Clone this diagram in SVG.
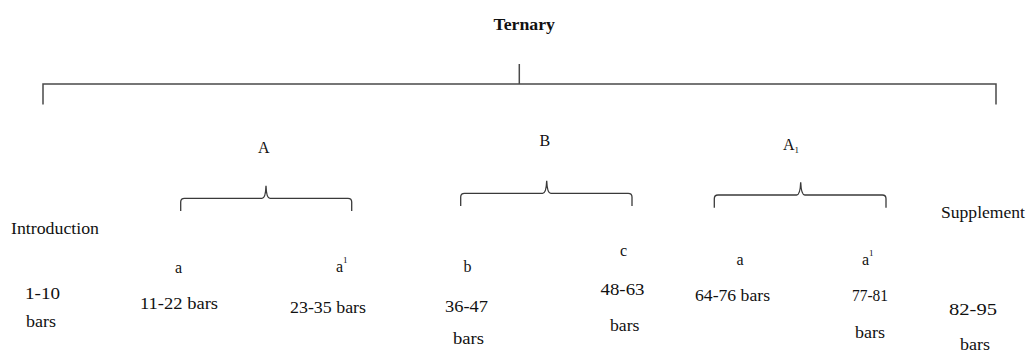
<svg xmlns="http://www.w3.org/2000/svg" width="1027" height="352" viewBox="0 0 1027 352">
<style>
text{font-family:"Liberation Serif","Times New Roman",serif;font-size:16px;fill:#111}
.title{font-weight:bold;font-size:16px}
.sup{font-size:9px}
.ln{fill:none;stroke:#4a4a4a;stroke-width:1.5}
.br{fill:none;stroke:#3a3a3a;stroke-width:1.3}
</style>
<rect width="1027" height="352" fill="#fff"/>
<g id="connectors">
<polyline class="ln" points="43,104.5 43,84 996,84 996,104.5"/>
<line class="ln" x1="519.3" y1="64" x2="519.3" y2="84"/>
<path class="br" d="M180.7,211 L180.7,202 Q180.7,198.3 184.5,198.3 L262,198.3 Q265.6,198.3 266,185.7 Q266.4,198.3 270,198.3 L348,198.3 Q351.7,198.3 351.7,202 L351.7,211"/>
<path class="br" d="M460.7,206 L460.7,197 Q460.7,193.3 464.5,193.3 L542.6,193.3 Q546.2,193.3 546.7,180.7 Q547.2,193.3 550.8,193.3 L628.2,193.3 Q632,193.3 632,197 L632,206"/>
<path class="br" d="M714.3,207.7 L714.3,198.7 Q714.3,195 718,195 L796.6,195 Q800.2,195 800.7,182.3 Q801.2,195 804.8,195 L882.3,195 Q886,195 886,198.7 L886,207.7"/>
</g>
<g id="ternary"><text class="title" x="493.5" y="30" textLength="61.5" lengthAdjust="spacingAndGlyphs">Ternary</text></g>
<g id="A"><text x="258" y="153">A</text></g>
<g id="B"><text x="539.5" y="146">B</text></g>
<g id="A1"><text x="783" y="150">A<tspan class="sup" dy="3">1</tspan></text></g>
<g id="introduction">
<text x="11" y="234" textLength="88" lengthAdjust="spacingAndGlyphs">Introduction</text>
<text x="25" y="299" textLength="35" lengthAdjust="spacingAndGlyphs">1-10</text>
<text x="26" y="327" textLength="30" lengthAdjust="spacingAndGlyphs">bars</text>
</g>
<g id="a1">
<text x="175" y="273">a</text>
<text x="140" y="309" textLength="78" lengthAdjust="spacingAndGlyphs">11-22 bars</text>
</g>
<g id="a2">
<text x="336" y="272">a<tspan class="sup" dy="-9">1</tspan></text>
<text x="290" y="313" textLength="76" lengthAdjust="spacingAndGlyphs">23-35 bars</text>
</g>
<g id="b">
<text x="463.5" y="272">b</text>
<text x="445" y="312" textLength="43" lengthAdjust="spacingAndGlyphs">36-47</text>
<text x="453" y="344" textLength="31" lengthAdjust="spacingAndGlyphs">bars</text>
</g>
<g id="c">
<text x="620" y="256">c</text>
<text x="600.5" y="295" textLength="44" lengthAdjust="spacingAndGlyphs">48-63</text>
<text x="610" y="331" textLength="29.5" lengthAdjust="spacingAndGlyphs">bars</text>
</g>
<g id="a3">
<text x="736.5" y="265">a</text>
<text x="695" y="301" textLength="75" lengthAdjust="spacingAndGlyphs">64-76 bars</text>
</g>
<g id="a4">
<text x="862" y="265">a<tspan class="sup" dy="-9">1</tspan></text>
<text x="852" y="301" textLength="36" lengthAdjust="spacingAndGlyphs">77-81</text>
<text x="855" y="338" textLength="30" lengthAdjust="spacingAndGlyphs">bars</text>
</g>
<g id="supplement">
<text x="941" y="218" textLength="84" lengthAdjust="spacingAndGlyphs">Supplement</text>
<text x="949" y="315" textLength="48" lengthAdjust="spacingAndGlyphs">82-95</text>
<text x="960" y="349.5" textLength="30" lengthAdjust="spacingAndGlyphs">bars</text>
</g>
</svg>
